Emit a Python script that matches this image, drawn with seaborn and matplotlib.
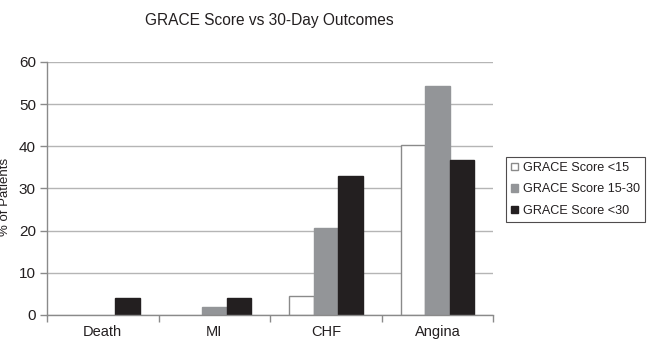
import matplotlib
matplotlib.use("Agg")
import matplotlib.pyplot as plt
import seaborn as sns
import pandas as pd
from matplotlib.patches import Patch

outcomes = ["Death", "MI", "CHF", "Angina"]
series_names = ["GRACE Score <15", "GRACE Score 15-30", "GRACE Score <30"]
score_lt15 = [0, 0, 4.6, 40.4]
score_15_30 = [0, 2.0, 20.7, 54.3]
score_lt30 = [4.0, 4.0, 33.0, 36.8]
y_ticks = [0, 10, 20, 30, 40, 50, 60]

fills = ["#ffffff", "#939598", "#231f20"]
edges = ["#8a8a8a", "#939598", "#231f20"]

df = pd.DataFrame({
    "Outcome": outcomes * 3,
    "Group": [s for s in series_names for _ in outcomes],
    "Percent": score_lt15 + score_15_30 + score_lt30,
})

sns.set_theme(style="white")
plt.rcParams["font.family"] = ["Liberation Sans", "DejaVu Sans"]

fig = plt.figure(figsize=(6.48, 3.42), dpi=100)
ax = fig.add_axes([0.0725, 0.079, 0.6885, 0.740])

sns.barplot(data=df, x="Outcome", y="Percent", hue="Group", order=outcomes,
            hue_order=series_names, palette=fills, width=0.66, gap=0,
            saturation=1, legend=False, ax=ax, errorbar=None)

# colour the bar edges per series
for container, ec in zip(ax.containers, edges):
    for bar in container:
        bar.set_edgecolor(ec)
        bar.set_linewidth(1.0)
        if bar.get_height() == 0:
            bar.set_visible(False)

ax.set_ylim(0, 60)
ax.set_xlim(-0.5, len(outcomes) - 0.5)
ax.set_yticks(y_ticks)
ax.set_yticklabels([str(v) for v in y_ticks], fontsize=11, color="#231f20")
ax.yaxis.grid(True, color="#b5b5b5", linewidth=1.0)
ax.set_axisbelow(True)
ax.set_xlabel("")
ax.set_ylabel("")

# category labels centred, tick marks at the category boundaries
ax.set_xticks(range(len(outcomes)))
ax.set_xticklabels(outcomes, fontsize=10.5, color="#231f20")
ax.tick_params(axis="x", which="major", length=0, pad=7)
ax.set_xticks([i - 0.5 for i in range(len(outcomes) + 1)], minor=True)
ax.tick_params(axis="x", which="minor", length=5, color="#8a8a8a", width=1, direction="out", bottom=True)
ax.tick_params(axis="y", length=5, color="#8a8a8a", width=1, direction="out", left=True, pad=3)

for side in ["top", "right"]:
    ax.spines[side].set_visible(False)
for side in ["left", "bottom"]:
    ax.spines[side].set_color("#8a8a8a")
    ax.spines[side].set_linewidth(1.0)

fig.text(0.415, 0.939, "GRACE Score vs 30-Day Outcomes", ha="center", va="center",
         fontsize=11.2, color="#231f20")
fig.text(0.007, 0.424, "% of Patients", rotation=90, ha="center", va="center",
         fontsize=9.5, color="#231f20")

handles = [Patch(facecolor=f, edgecolor=e, linewidth=1.0) for f, e in zip(fills, edges)]
leg = fig.legend(handles, series_names, loc="center left", bbox_to_anchor=(0.781, 0.446),
                 bbox_transform=fig.transFigure, fontsize=9.1, frameon=True, fancybox=False,
                 handlelength=0.55, handleheight=0.55, handletextpad=0.4, borderpad=0.4,
                 labelspacing=0.75, borderaxespad=0)
leg.get_frame().set_edgecolor("#231f20")
leg.get_frame().set_linewidth(0.8)
for t in leg.get_texts():
    t.set_color("#231f20")

fig.savefig("out.png", dpi=100)
